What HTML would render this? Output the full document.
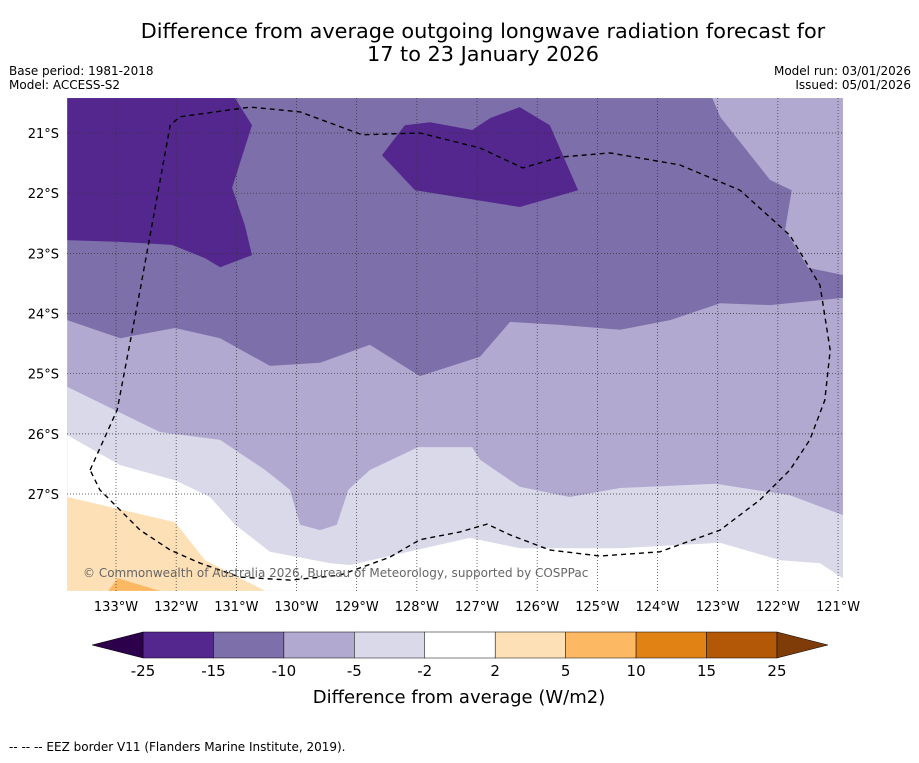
<!DOCTYPE html>
<html><head><meta charset="utf-8"><style>
body{margin:0;background:#fff;font-family:"Liberation Sans","DejaVu Sans",sans-serif;}
svg text{font-family:"DejaVu Sans","Liberation Sans",sans-serif;}
</style></head><body>
<svg id="c" width="919" height="758" xmlns="http://www.w3.org/2000/svg">
<text x="483" y="38" text-anchor="middle" font-size="20.8">Difference from average outgoing longwave radiation forecast for</text>
<text x="483" y="61" text-anchor="middle" font-size="20.8">17 to 23 January 2026</text>
<text x="9" y="75" font-size="12">Base period: 1981-2018</text>
<text x="9" y="89" font-size="12">Model: ACCESS-S2</text>
<text x="911" y="75" font-size="12" text-anchor="end">Model run: 03/01/2026</text>
<text x="911" y="89" font-size="12" text-anchor="end">Issued: 05/01/2026</text>
<defs><clipPath id="mc"><rect x="67" y="98" width="776" height="493"/></clipPath></defs>
<g id="map" clip-path="url(#mc)"></g>
<g id="axes"></g>
<g id="cbar"></g>
<text x="459" y="703" text-anchor="middle" font-size="18">Difference from average (W/m2)</text>
<text x="9" y="751" font-size="12">--  --  -- EEZ border V11 (Flanders Marine Institute, 2019).</text>
</svg>
<script>
const lonTicks=[-133,-132,-131,-130,-129,-128,-127,-126,-125,-124,-123,-122,-121];
const latTicks=[-21,-22,-23,-24,-25,-26,-27];
const levels=[-25,-15,-10,-5,-2,2,5,10,15,25];
const levelColors=['#54278f','#7d6fa9','#b1a9d0','#d9d9ea','#ffffff','#fee0b6','#fdb863','#e08214','#b35806'];
const extLow='#2d004b', extHigh='#7f3b08';
const regionMid=[[-133.81,-20.42],[-123.09,-20.42],[-122.96,-20.73],[-122.13,-21.78],[-121.77,-21.95],[-121.88,-22.61],[-121.50,-23.24],[-120.92,-23.36],[-120.92,-23.74],[-122.13,-23.86],[-122.96,-23.83],[-123.79,-24.11],[-124.62,-24.27],[-125.62,-24.19],[-126.45,-24.14],[-126.95,-24.72],[-127.95,-25.04],[-128.78,-24.52],[-129.61,-24.82],[-130.44,-24.87],[-131.27,-24.41],[-132.02,-24.24],[-132.93,-24.41],[-133.81,-24.11]];
const regionLight=[[-133.81,-25.22],[-132.27,-25.97],[-131.27,-26.10],[-130.52,-26.60],[-130.11,-26.93],[-129.94,-27.51],[-129.61,-27.60],[-129.33,-27.51],[-129.14,-26.93],[-128.78,-26.60],[-127.98,-26.22],[-127.08,-26.22],[-126.95,-26.43],[-126.29,-26.88],[-125.46,-27.05],[-124.62,-26.90],[-123.04,-26.83],[-121.80,-27.02],[-120.92,-27.35],[-120.92,-20.42],[-133.81,-20.42]];
const regionDarkW=[[-133.81,-20.42],[-131.02,-20.42],[-130.74,-20.87],[-131.07,-21.91],[-130.86,-22.53],[-130.74,-23.03],[-131.27,-23.23],[-131.52,-23.08],[-132.07,-22.86],[-132.93,-22.81],[-133.81,-22.78]];
const regionDarkC=[[-128.58,-21.37],[-128.20,-20.87],[-127.78,-20.82],[-127.08,-20.95],[-126.78,-20.75],[-126.29,-20.57],[-125.79,-20.87],[-125.32,-21.95],[-126.29,-22.23],[-128.03,-21.95]];
const regionWhite=[[-133.81,-26.02],[-132.93,-26.52],[-132.02,-26.77],[-131.44,-27.05],[-131.02,-27.51],[-130.44,-27.96],[-129.44,-28.15],[-129.11,-28.18],[-127.12,-27.73],[-126.29,-27.90],[-124.62,-27.90],[-122.96,-27.81],[-121.96,-28.10],[-121.30,-28.15],[-120.92,-28.40],[-120.92,-28.61],[-133.81,-28.61]];
const regionOr1=[[-133.81,-27.05],[-132.02,-27.47],[-131.52,-28.10],[-130.52,-28.61],[-133.81,-28.61]];
const regionOr2=[[-133.13,-28.61],[-132.97,-28.40],[-132.27,-28.61]];
const eez=[[-133.43,-26.60],[-132.98,-25.60],[-132.60,-23.61],[-132.10,-20.87],[-131.94,-20.73],[-130.77,-20.57],[-129.94,-20.65],[-128.91,-21.03],[-127.95,-21.0],[-126.95,-21.25],[-126.24,-21.58],[-125.62,-21.40],[-124.79,-21.33],[-123.63,-21.53],[-122.63,-21.95],[-121.80,-22.70],[-121.30,-23.53],[-121.13,-24.61],[-121.22,-25.44],[-121.47,-26.10],[-121.80,-26.60],[-122.30,-27.10],[-122.96,-27.60],[-123.96,-27.96],[-124.96,-28.03],[-125.79,-27.93],[-126.45,-27.68],[-126.83,-27.50],[-127.28,-27.63],[-127.95,-27.76],[-128.45,-28.05],[-129.28,-28.35],[-130.11,-28.43],[-130.94,-28.38],[-131.60,-28.15],[-132.10,-27.93],[-132.60,-27.60],[-133.27,-26.93],[-133.43,-26.60]];
const NS='http://www.w3.org/2000/svg';
const X=lon=>116+(lon+133)*60.17, Y=lat=>133-(lat+21)*60.17;
function mk(t,a,p){const e=document.createElementNS(NS,t);for(const k in a)e.setAttribute(k,a[k]);p.appendChild(e);return e;}
const map=document.getElementById('map'),axes=document.getElementById('axes'),cb=document.getElementById('cbar');
const pts=a=>a.map(p=>X(p[0]).toFixed(1)+','+Y(p[1]).toFixed(1)).join(' ');
let bg=mk('rect',{x:67,y:98,width:776,height:493,fill:levelColors[3]},map);


const regs=[[regionWhite,4,'level-white'],[regionOr1,5,'level-2-5'],[regionOr2,6,'level-5-10'],[regionLight,2,'level-minus10-minus5'],[regionMid,1,'level-minus15-minus10'],[regionDarkW,0,'level-dark-west'],[regionDarkC,0,'level-dark-central']];
regs.forEach(r=>{const e=mk('polygon',{points:pts(r[0]),fill:levelColors[r[1]]},map);

});
lonTicks.forEach(l=>{const g=mk('line',{x1:X(l),x2:X(l),y1:98,y2:591,stroke:'#333','stroke-width':0.7,'stroke-dasharray':'1,2'},map);


const t=mk('text',{x:X(l),y:611,'text-anchor':'middle','font-size':13},axes);t.textContent=(-l)+'°W';

});
latTicks.forEach(l=>{const g=mk('line',{x1:67,x2:843,y1:Y(l),y2:Y(l),stroke:'#333','stroke-width':0.7,'stroke-dasharray':'1,2'},map);


const t=mk('text',{x:59,y:Y(l)+5,'text-anchor':'end','font-size':13},axes);t.textContent=(-l)+'°S';

});
const ez=mk('polyline',{points:pts(eez),fill:'none',stroke:'#000','stroke-width':1.4,'stroke-dasharray':'5,4'},map);


const cp=mk('text',{x:83,y:577,'font-size':12,fill:'#666'},map);cp.textContent='© Commonwealth of Australia 2026, Bureau of Meteorology, supported by COSPPac';


const CX=v=>{for(let i=0;i<levels.length-1;i++){if(v<=levels[i+1]){return 143+(i+(v-levels[i])/(levels[i+1]-levels[i]))*70.44;}}return 777;};
levelColors.forEach((c,i)=>{const r=mk('rect',{x:CX(levels[i]),y:632,width:CX(levels[i+1])-CX(levels[i]),height:26,fill:c,stroke:'#000','stroke-width':0.5},cb);

});
const tl=mk('polygon',{points:'143,632 92,645 143,658',fill:extLow,stroke:'#000','stroke-width':0.5},cb);


const th=mk('polygon',{points:'777,632 828,645 777,658',fill:extHigh,stroke:'#000','stroke-width':0.5},cb);


levels.forEach(v=>{const t=mk('text',{x:CX(v),y:676,'text-anchor':'middle','font-size':15},cb);t.textContent=v;

});
</script>
</body></html>
